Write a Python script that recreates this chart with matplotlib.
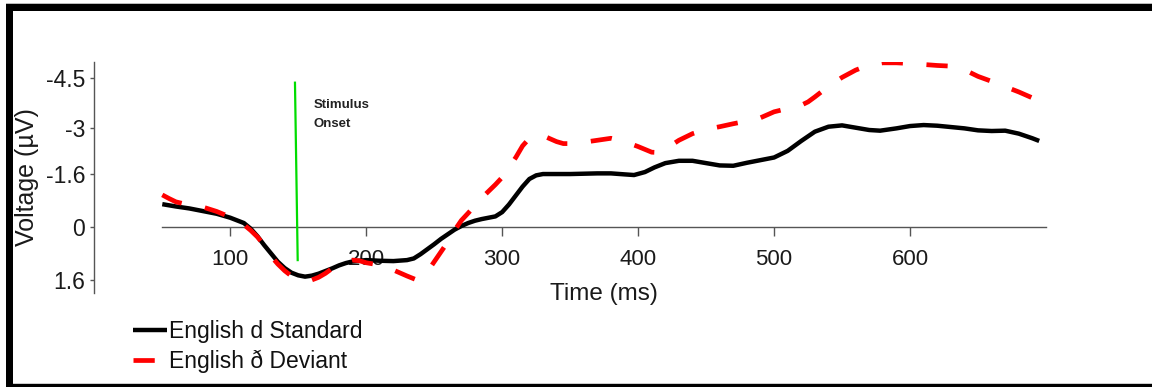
import matplotlib
matplotlib.use("Agg")
import matplotlib.pyplot as plt
from matplotlib.patches import Rectangle

plt.rcParams["font.family"] = ["Liberation Sans", "DejaVu Sans"]
plt.rcParams["axes.unicode_minus"] = False

# ERP waveforms (ms, µV; negative plotted up)
time_std = [50, 60, 70, 80, 90, 100, 105, 110, 115, 120, 125, 130, 135, 140, 145,
            150, 155, 160, 165, 170, 175, 180, 185, 190, 200, 210, 220, 230, 235,
            240, 245, 250, 255, 260, 265, 270, 275, 280, 285, 290, 295, 300, 305,
            310, 315, 320, 325, 330, 340, 350, 360, 370, 380, 390, 397, 405, 412,
            420, 430, 440, 450, 460, 470, 480, 490, 500, 510, 520, 530, 540, 550,
            560, 570, 578, 590, 600, 610, 620, 630, 640, 650, 660, 670, 680, 690, 695]
volt_std = [-0.69, -0.62, -0.56, -0.48, -0.40, -0.28, -0.20, -0.12, 0.05, 0.28, 0.55,
            0.80, 1.05, 1.24, 1.38, 1.46, 1.50, 1.47, 1.41, 1.33, 1.25, 1.16, 1.09,
            1.04, 1.00, 1.02, 1.03, 1.00, 0.95, 0.82, 0.67, 0.52, 0.36, 0.22, 0.08,
            -0.03, -0.12, -0.19, -0.24, -0.28, -0.32, -0.45, -0.68, -0.95, -1.22,
            -1.45, -1.56, -1.60, -1.60, -1.60, -1.61, -1.62, -1.62, -1.59, -1.57,
            -1.66, -1.80, -1.93, -2.00, -2.00, -1.93, -1.86, -1.85, -1.94, -2.02,
            -2.10, -2.30, -2.60, -2.88, -3.03, -3.07, -3.00, -2.93, -2.91, -2.98,
            -3.05, -3.08, -3.06, -3.02, -2.98, -2.92, -2.90, -2.91, -2.82, -2.68, -2.60]

time_dev = [50, 55, 60, 70, 80, 90, 100, 105, 110, 115, 120, 125, 130, 135, 140, 145,
            150, 155, 160, 165, 170, 175, 180, 185, 190, 195, 200, 210, 220, 230, 236,
            240, 245, 250, 255, 260, 265, 270, 275, 280, 285, 290, 295, 300, 305, 310,
            315, 320, 325, 330, 340, 345, 350, 360, 370, 380, 390, 400, 410, 415, 420,
            430, 440, 450, 460, 470, 480, 490, 500, 510, 520, 525, 530, 540, 550, 560,
            570, 580, 590, 600, 610, 620, 630, 640, 650, 660, 670, 680, 690, 695]
volt_dev = [-0.97, -0.86, -0.76, -0.66, -0.60, -0.47, -0.30, -0.20, -0.07, 0.10, 0.30,
            0.55, 0.88, 1.12, 1.32, 1.48, 1.57, 1.61, 1.60, 1.52, 1.40, 1.25, 1.12,
            1.05, 1.00, 1.02, 1.08, 1.15, 1.30, 1.48, 1.58, 1.55, 1.35, 1.05, 0.75,
            0.45, 0.10, -0.20, -0.42, -0.65, -0.88, -1.08, -1.28, -1.50, -1.80, -2.10,
            -2.45, -2.68, -2.78, -2.76, -2.58, -2.52, -2.52, -2.56, -2.62, -2.68,
            -2.58, -2.43, -2.26, -2.25, -2.35, -2.62, -2.82, -2.95, -3.03, -3.12,
            -3.20, -3.30, -3.48, -3.58, -3.68, -3.78, -3.93, -4.25, -4.52, -4.74,
            -4.90, -4.96, -4.96, -4.94, -4.91, -4.88, -4.86, -4.75, -4.55, -4.40,
            -4.24, -4.08, -3.90, -3.74]

x_ticks = [100, 200, 300, 400, 500, 600]
y_ticks = [-4.5, -3, -1.6, 0, 1.6]
y_tick_labels = ["-4.5", "-3", "-1.6", "0", "1.6"]
onset_x = [147.6, 149.6]
onset_y = [-4.36, 1.0]

W, H = 1152, 387
fig = plt.figure(figsize=(W / 100, H / 100), dpi=100)
fig.patch.set_facecolor("white")

ax = fig.add_axes([94.3 / W, 1 - 293.2 / H, (1046 - 94.3) / W, (293.2 - 61.5) / H])
ax.set_xlim(0, 700)
ax.set_ylim(2, -5)

std_line, = ax.plot(time_std, volt_std, color="black", lw=3.2,
                    solid_capstyle="butt", solid_joinstyle="round",
                    label="English d Standard", zorder=3)
dev_line, = ax.plot(time_dev, volt_dev, color="#ff0000", lw=3.4,
                    linestyle=(0, (4.5, 5.0)), dash_capstyle="butt",
                    dash_joinstyle="round", label="English ð Deviant", zorder=4)

ax.plot(onset_x, onset_y, color="#00dd00", lw=1.6, zorder=5)
ax.text(161, -3.60, "Stimulus", fontsize=9.5, fontweight="bold",
        color="#222222", va="baseline", ha="left")
ax.text(161, -3.02, "Onset", fontsize=9.5, fontweight="bold",
        color="#222222", va="baseline", ha="left")

for s in ["top", "right"]:
    ax.spines[s].set_visible(False)
ax.spines["left"].set_color("#555555")
ax.spines["left"].set_linewidth(1.0)
ax.spines["bottom"].set_position(("data", 0))
ax.spines["bottom"].set_bounds(50, 700)
ax.spines["bottom"].set_color("#555555")
ax.spines["bottom"].set_linewidth(1.0)

ax.set_xticks(x_ticks)
ax.set_xticklabels([str(t) for t in x_ticks])
ax.set_yticks(y_ticks)
ax.set_yticklabels(y_tick_labels)
ax.tick_params(axis="x", direction="out", length=6.5, width=1.0, color="#555555",
               labelsize=16, labelcolor="#1a1a1a", pad=9)
ax.tick_params(axis="y", direction="out", length=3, width=1.0, color="#555555",
               labelsize=16.5, labelcolor="#1a1a1a", pad=3.5)

ax.text(375, 2.2, "Time (ms)", fontsize=17.5, color="#1a1a1a",
        ha="center", va="baseline", clip_on=False)
fig.text(27 / W, 1 - 177 / H, "Voltage (µV)", fontsize=18, color="#1a1a1a",
         rotation=90, ha="center", va="center")

leg = fig.legend(handles=[std_line, dev_line], loc="upper left",
                 bbox_to_anchor=(133 / W, 1 - 320 / H), frameon=False,
                 fontsize=16.5, handlelength=1.5, handletextpad=0.05,
                 borderpad=0, borderaxespad=0, labelspacing=0.3)
for t in leg.get_texts():
    t.set_color("#111111")

# picture frame
def px_rect(x0, y0, x1, y1, color):
    fig.patches.append(Rectangle((x0 / W, 1 - y1 / H), (x1 - x0) / W, (y1 - y0) / H,
                                 transform=fig.transFigure, facecolor=color,
                                 edgecolor="none", zorder=10))

px_rect(6, 3, W, 4, "#bbbbbb")
px_rect(6, 4, W, 11, "black")
px_rect(6, 4, 13, H, "black")
px_rect(13, 383, W, 384, "#cccccc")
px_rect(6, 384, W, H, "black")

fig.savefig("out.png", dpi=100, facecolor="white")
